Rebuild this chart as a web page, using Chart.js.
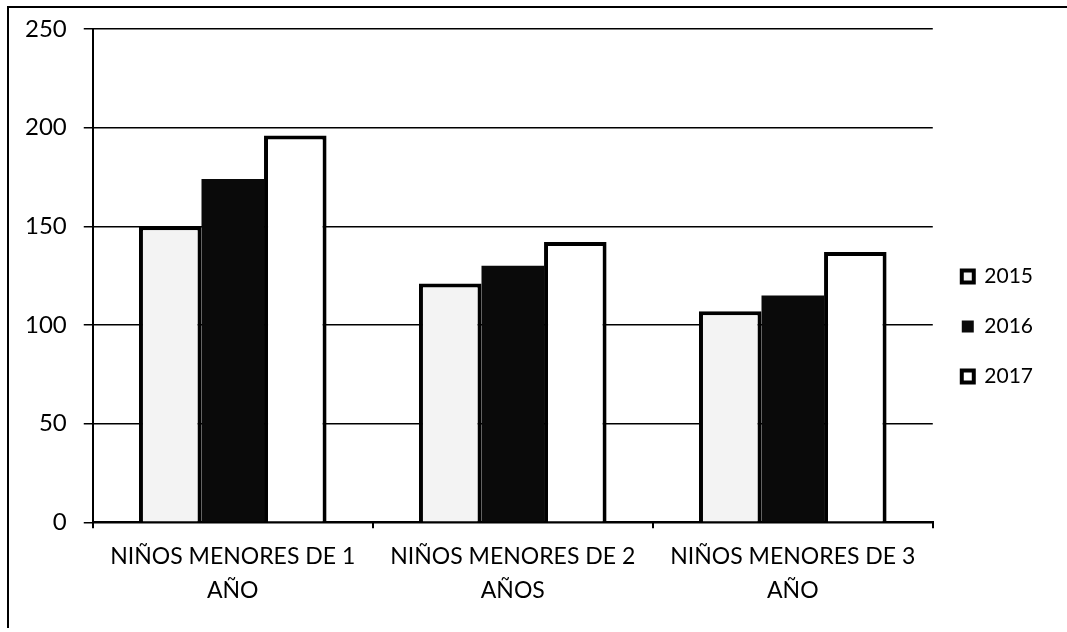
<!DOCTYPE html>
<html>
<head>
<meta charset="utf-8">
<script src="https://cdn.jsdelivr.net/npm/chart.js@4"></script>
<style>
  body { margin: 0; background: #fff; }
  #wrap { position: relative; width: 1067px; height: 632px; }
  #frame { position: absolute; left: 7px; top: 6px; right: 0; bottom: 4px; border-left: 2px solid #000; border-top: 2px solid #000; pointer-events: none; }
</style>
</head>
<body>
<div id="wrap">
  <canvas id="chart" width="1067" height="632"></canvas>
  <div id="frame"></div>
</div>
<script>
const categories = [
  ['NIÑOS MENORES DE 1', 'AÑO'],
  ['NIÑOS MENORES DE 2', 'AÑOS'],
  ['NIÑOS MENORES DE 3', 'AÑO'],
]
const values2015 = [150, 121, 107]
const values2016 = [174, 130, 115]
const values2017 = [196, 142, 137]
const seriesNames = ['2015', '2016', '2017']

const family = 'Lato, "Open Sans", sans-serif'

new Chart(document.getElementById('chart'), {
  type: 'bar',
  data: {
    labels: categories,
    datasets: [
      {
        label: seriesNames[0],
        data: values2015,
        backgroundColor: '#f3f3f3',
        borderColor: '#000',
        borderWidth: 4,
      },
      {
        label: seriesNames[1],
        data: values2016,
        backgroundColor: '#0a0a0a',
        borderColor: '#000',
        borderWidth: 0,
      },
      {
        label: seriesNames[2],
        data: values2017,
        backgroundColor: '#ffffff',
        borderColor: '#000',
        borderWidth: 4,
      },
    ],
  },
  options: {
    responsive: false,
    animation: false,
    categoryPercentage: 0.67,
    barPercentage: 1,
    layout: { padding: { top: 2, left: 8, right: 24, bottom: 13 } },
    plugins: {
      tooltip: { enabled: false },
      legend: {
        position: 'right',
        title: { display: true, text: '', font: { size: 10, lineHeight: 1 }, padding: { top: 0, bottom: 22 } },
        labels: {
          color: '#000',
          font: { family: family, size: 21 },
          boxWidth: 12,
          boxHeight: 12,
          padding: 29,
          useBorderRadius: false,
        },
      },
    },
    scales: {
      x: {
        border: { color: '#000', width: 2 },
        grid: { drawOnChartArea: false, drawTicks: true, tickLength: 6, color: '#000', lineWidth: 2 },
        ticks: { color: '#000', font: { family: family, size: 23, lineHeight: 1.45 }, padding: 12, maxRotation: 0 },
      },
      y: {
        min: 0,
        max: 250,
        border: { color: '#000', width: 2 },
        grid: { color: '#000', lineWidth: 1.5, tickLength: 9 },
        ticks: { color: '#000', font: { family: family, size: 24, lineHeight: 1 }, stepSize: 50, padding: 17 },
      },
    },
  },
})
</script>
</body>
</html>
